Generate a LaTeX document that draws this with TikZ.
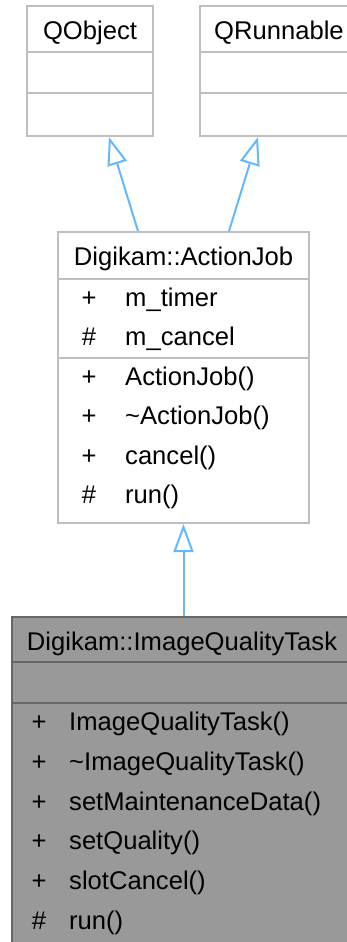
\documentclass[tikz,border=0pt]{standalone}
\usepackage{fontspec}
\setmainfont{Liberation Sans}
\usepackage{tikz}
\usetikzlibrary{arrows.meta,positioning}
\definecolor{umlgray}{RGB}{191,191,191}
\definecolor{umldark}{RGB}{102,102,102}
\definecolor{umlfill}{RGB}{153,153,153}
\definecolor{inhblue}{RGB}{99,184,255}
\tikzset{
  umlbox/.style={rectangle, draw=umlgray, line width=2pt, fill=white, inner sep=0pt},
  curbox/.style={rectangle, draw=umldark, line width=2pt, fill=umlfill, inner sep=0pt},
  sepline/.style={umlgray, line width=2pt},
  cursep/.style={umldark, line width=2pt},
  umltext/.style={font=\fontsize{25.6}{30}\selectfont, inner sep=0pt},
  inherit/.style={draw=inhblue, line width=2pt,
                  -{Triangle[length=28pt,width=20pt,fill=white]}},
}

\begin{document}
\begin{tikzpicture}[x=1pt,y=-1pt]
  \clip (0,0) rectangle (347,942);
  % Base classes
  \node[umlbox, minimum width=126, minimum height=130] (qobj) at (90,71) {};
  \draw[sepline] (qobj.west |- 0,52) -- (qobj.east |- 0,52);
  \draw[sepline] (qobj.west |- 0,93) -- (qobj.east |- 0,93);
  \node[umltext, anchor=base] (qobj-t) at (90,40) {QObject};
  \node[umlbox, minimum width=158, minimum height=130] (qrun) at (279,71) {};
  \draw[sepline] (qrun.west |- 0,52) -- (qrun.east |- 0,52);
  \draw[sepline] (qrun.west |- 0,93) -- (qrun.east |- 0,93);
  \node[umltext, anchor=base] (qrun-t) at (279,40) {QRunnable};
  % ActionJob
  \node[umlbox, minimum width=251, minimum height=291] (aj) at (183.5,377.5) {};
  \draw[sepline] (aj.west |- 0,279) -- (aj.east |- 0,279);
  \draw[sepline] (aj.west |- 0,358) -- (aj.east |- 0,358);
  \node[umltext, anchor=base] (aj-t) at (183.5,265.5) {Digikam::ActionJob};
  \foreach \y/\vis/\name [count=\i] in {306/+/m\_timer, 345.5/\#/m\_cancel,
      385/+/ActionJob(), 424.5/+/\textasciitilde ActionJob(), 464/+/cancel(),
      503.5/\#/run()} {
    \node[umltext, anchor=base] (aj-v\i) at (89,\y) {\vis};
    \node[umltext, anchor=base west] (aj-m\i) at (125,\y) {\name};
  }
  % ImageQualityTask
  \node[curbox, minimum width=340, minimum height=343] (iqt) at (182,788.5) {};
  \draw[cursep] (iqt.west |- 0,662) -- (iqt.east |- 0,662);
  \draw[cursep] (iqt.west |- 0,703) -- (iqt.east |- 0,703);
  \node[umltext, anchor=base] (iqt-t) at (182,650) {Digikam::ImageQualityTask};
  \foreach \y/\vis/\name [count=\i] in {730/+/ImageQualityTask(),
      770/+/\textasciitilde ImageQualityTask(), 810/+/setMaintenanceData(),
      849/+/setQuality(), 889/+/slotCancel(), 929/\#/run()} {
    \node[umltext, anchor=base] (iqt-v\i) at (39,\y) {\vis};
    \node[umltext, anchor=base west] (iqt-m\i) at (69,\y) {\name};
  }
  % Inheritance
  \draw[inherit] ([xshift=-45.5pt]aj.north) -- ([xshift=19pt]qobj.south);
  \draw[inherit] ([xshift=45.5pt]aj.north) -- ([xshift=-21pt]qrun.south);
  \draw[inherit] (iqt.north -| aj.south) -- (aj.south);
\end{tikzpicture}
\end{document}
